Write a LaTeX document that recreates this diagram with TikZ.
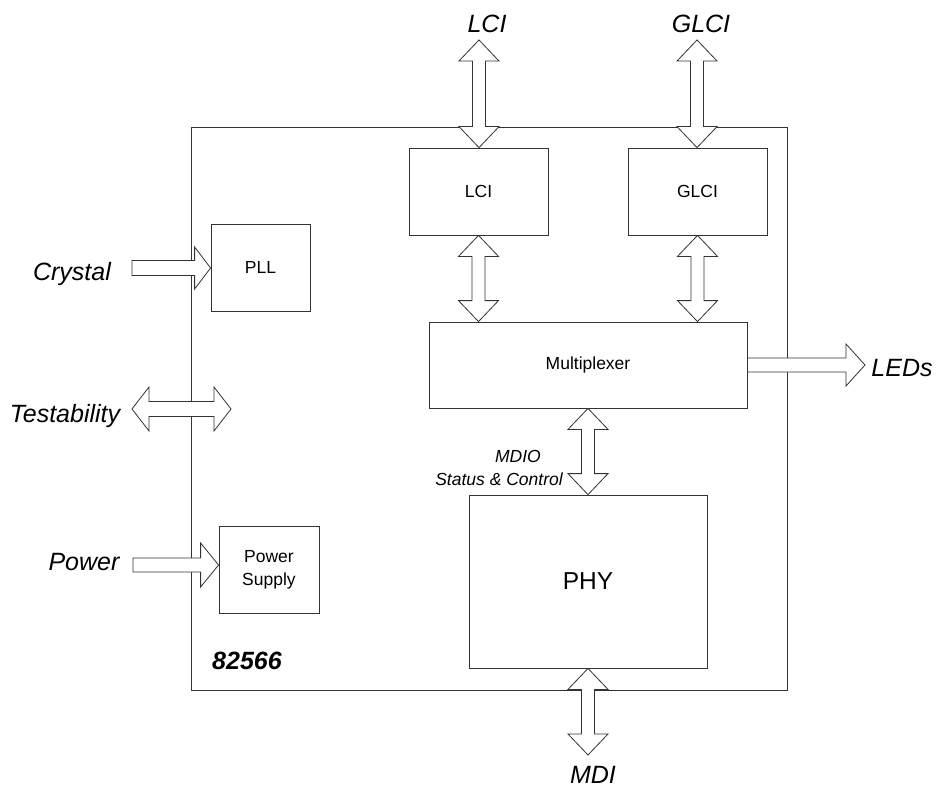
\documentclass[tikz,border=0pt]{standalone}
\usepackage{fontspec}
\setmainfont{Liberation Sans}
\usetikzlibrary{calc}
\tikzset{
  blk/.style={draw=black!80, line width=0.8pt, fill=white, inner sep=0pt, align=center,
    font=\fontsize{17.5}{23}\selectfont},
  ext/.style={font=\fontsize{25}{30}\selectfont\itshape, inner sep=0pt},
  small/.style={font=\fontsize{17.5}{23}\selectfont\itshape, inner sep=0pt},
  fat/.style={draw=black!80, line width=0.8pt, fill=white, line join=miter},
}
% vertical double fat arrow from #1 (top) to #2 (bottom)
\newcommand\fatV[2]{%
  \draw[fat] let \p1=(#1), \p2=(#2) in
    (\x1,\y1) -- (\x1+20pt,\y1-21pt) -- (\x1+6.5pt,\y1-21pt) -- (\x1+6.5pt,\y2+21pt)
    -- (\x1+20pt,\y2+21pt) -- (\x1,\y2) -- (\x1-20pt,\y2+21pt) -- (\x1-6.5pt,\y2+21pt)
    -- (\x1-6.5pt,\y1-21pt) -- (\x1-20pt,\y1-21pt) -- cycle;}
% horizontal single fat arrow: tail #1, tip #2, shaft half #3, head half #4, head length #5
\newcommand\fatH[5]{%
  \draw[fat] let \p1=(#1), \p2=(#2) in
    (\x1,\y1+#3) -- (\x2-#5,\y1+#3) -- (\x2-#5,\y1+#4) -- (\x2,\y1)
    -- (\x2-#5,\y1-#4) -- (\x2-#5,\y1-#3) -- (\x1,\y1-#3) -- cycle;}
% horizontal double fat arrow
\newcommand\fatHD[5]{%
  \draw[fat] let \p1=(#1), \p2=(#2) in
    (\x1,\y1) -- (\x1+#5,\y1+#4) -- (\x1+#5,\y1+#3) -- (\x2-#5,\y1+#3) -- (\x2-#5,\y1+#4)
    -- (\x2,\y1) -- (\x2-#5,\y1-#4) -- (\x2-#5,\y1-#3) -- (\x1+#5,\y1-#3)
    -- (\x1+#5,\y1-#4) -- cycle;}
\begin{document}
\begin{tikzpicture}[x=1pt,y=-1pt]
\useasboundingbox (0,0) rectangle (940,789);

% chip outline
\node[draw=black!80, line width=0.8pt, minimum width=596pt, minimum height=563pt, inner sep=0pt]
  (chip) at (489,408.5) {};

% blocks
\node[blk, minimum width=139pt, minimum height=87pt] (lci)  at (478.5,191.5) {LCI};
\node[blk, minimum width=139pt, minimum height=87pt] (glci) at (697.5,191.5) {GLCI};
\node[blk, minimum width=99pt,  minimum height=87pt] (pll)  at (260.5,267.5) {PLL};
\node[blk, minimum width=318pt, minimum height=86pt] (mux)  at (588,365) {Multiplexer};
\node[blk, minimum width=238pt, minimum height=173pt, font=\fontsize{24.5}{28}\selectfont] (phy) at (588,581.5) {PHY};
\node[blk, minimum width=100pt, minimum height=87pt] (ps)   at (269,569.5) {Power\\Supply};

% free ends
\coordinate (lciT)  at (479,40);
\coordinate (glciT) at (697,40);
\coordinate (mdiT)  at (588,755);
\coordinate (crT)   at (132,268);
\coordinate (pwT)   at (133,565);
\coordinate (tsL)   at (132,409);
\coordinate (tsR)   at (231,409);
\coordinate (ledT)  at (865,365);

% fat arrows
\fatV{lciT}{lci.north}
\fatV{glciT}{glci.north}
\fatV{lci.south}{lci.south |- mux.north}
\fatV{glci.south}{glci.south |- mux.north}
\fatV{mux.south}{phy.north}
\fatV{phy.south}{mdiT}
\fatH{crT}{pll.west}{7.5pt}{21pt}{16pt}
\fatH{pwT}{ps.west}{7pt}{22pt}{18pt}
\fatHD{tsL}{tsR}{7.5pt}{22pt}{17pt}
\fatH{mux.east}{ledT}{7pt}{21pt}{19pt}

% external labels
\node[ext] (lLCI)  at (487,24) {LCI};
\node[ext] (lGLCI) at (701,24) {GLCI};
\node[ext, anchor=base] (lCry) at (72,280) {Crystal};
\node[ext, anchor=base] (lTst) at (65,422) {Testability};
\node[ext, anchor=base] (lPow) at (84,570) {Power};
\node[ext, anchor=base] (lLED) at (902,376) {LEDs};
\node[ext, anchor=base] (lMDI) at (593,783) {MDI};
\node[font=\fontsize{25}{30}\selectfont\bfseries\itshape, inner sep=0pt, anchor=base] (chipname) at (247,669) {82566};
\node[small, anchor=base] (lMDIO) at (518,462) {MDIO};
\node[small, anchor=base] (lSC)   at (499,485) {Status \& Control};
\end{tikzpicture}
\end{document}
